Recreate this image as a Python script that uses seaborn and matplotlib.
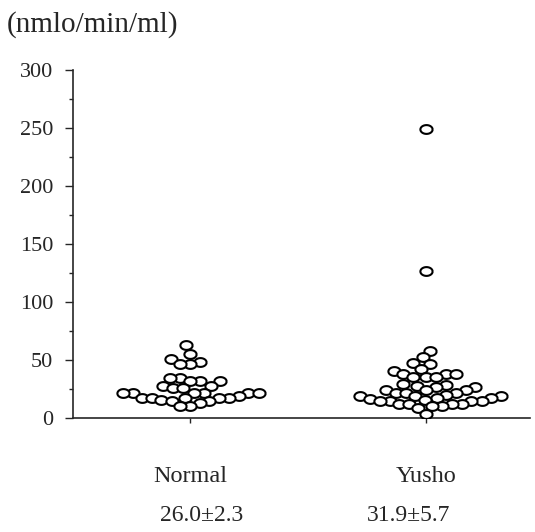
import numpy as np
import pandas as pd
import matplotlib
matplotlib.use('Agg')
import matplotlib.pyplot as plt
import seaborn as sns

# values (nmol/min/ml)
groups = ['Normal', 'Yusho']
normal = [63.2, 55.5, 50.9, 48.3, 46.6, 46.6, 34.5, 34.5, 32.2, 32.2, 32.2,
          27.3, 27.3, 26.4, 25.9, 22.1, 22.1, 22.1, 22.1, 22.1, 22.1, 19.5,
          17.8, 17.8, 17.8, 17.8, 17.2, 15.8, 15.2, 15.2, 12.9, 10.6, 10.6]
yusho = [249, 127, 58.3, 52.6, 47.4, 46.6, 42.5, 40.8, 38.2, 38.2, 38.2,
         35.3, 35.3, 35.3, 29.6, 28.7, 27.9, 26.7, 26.7, 24.4, 24.4, 24.4,
         21.6, 21.6, 21.6, 20.1, 18.7, 18.7, 18.7, 17.2, 17.2, 16.7, 15.8,
         14.9, 14.9, 14.9, 14.9, 12.4, 12.4, 12.4, 12.1, 10.1, 10.1, 8.6, 3.4]
mean_labels = ['26.0\u00b12.3', '31.9\u00b15.7']

df = pd.DataFrame({'group': ['Normal'] * len(normal) + ['Yusho'] * len(yusho),
                   'value': normal + yusho})

sns.set_style('ticks')
plt.rcParams['font.family'] = ['Liberation Serif', 'DejaVu Serif']

# flat ellipse, like the marks in the scanned figure
t = np.linspace(0, 2 * np.pi, 41)
ellipse = np.column_stack([np.cos(t), 0.72 * np.sin(t)])

fig = plt.figure(figsize=(5.35, 5.32), dpi=100)
ax = fig.add_axes([0.136, 0.214, 0.855, 0.654])
# lay the swarm out with small marks so it stays tight, the marks overlap in the original
sns.swarmplot(data=df, x='group', y='value', order=groups, marker=ellipse,
              size=5.4, color='white', edgecolor='black', linewidth=1.5, ax=ax)

ax.set_xlim(-0.496, 1.44)
ax.set_ylim(0, 300)
ax.set_yticks(range(0, 301, 50))
ax.set_yticks(range(25, 300, 50), minor=True)
ax.set_xlabel('')
ax.set_ylabel('')
sns.despine(ax=ax)
for s in ['left', 'bottom']:
    ax.spines[s].set_linewidth(1.2)
ax.tick_params(axis='y', labelsize=16, length=6, width=1, pad=8)
ax.tick_params(axis='y', which='minor', length=3, width=1)
ax.tick_params(axis='x', labelsize=17.5, length=3.5, width=1, pad=31)

# group means under the labels
for xpos, lab in zip([0.05, 0.924], mean_labels):
    ax.text(xpos, -0.279, lab, transform=ax.get_xaxis_transform(),
            ha='center', va='center', fontsize=17)

fig.text(0.012, 0.953, '(nmlo/min/ml)', ha='left', va='center', fontsize=21)

# freeze the swarm positions, then draw the marks at full size
fig.canvas.draw()
for c in ax.collections:
    if 'draw' in c.__dict__:
        del c.draw
    c.set_sizes([8.8 ** 2])

fig.savefig('out.png', dpi=100)
